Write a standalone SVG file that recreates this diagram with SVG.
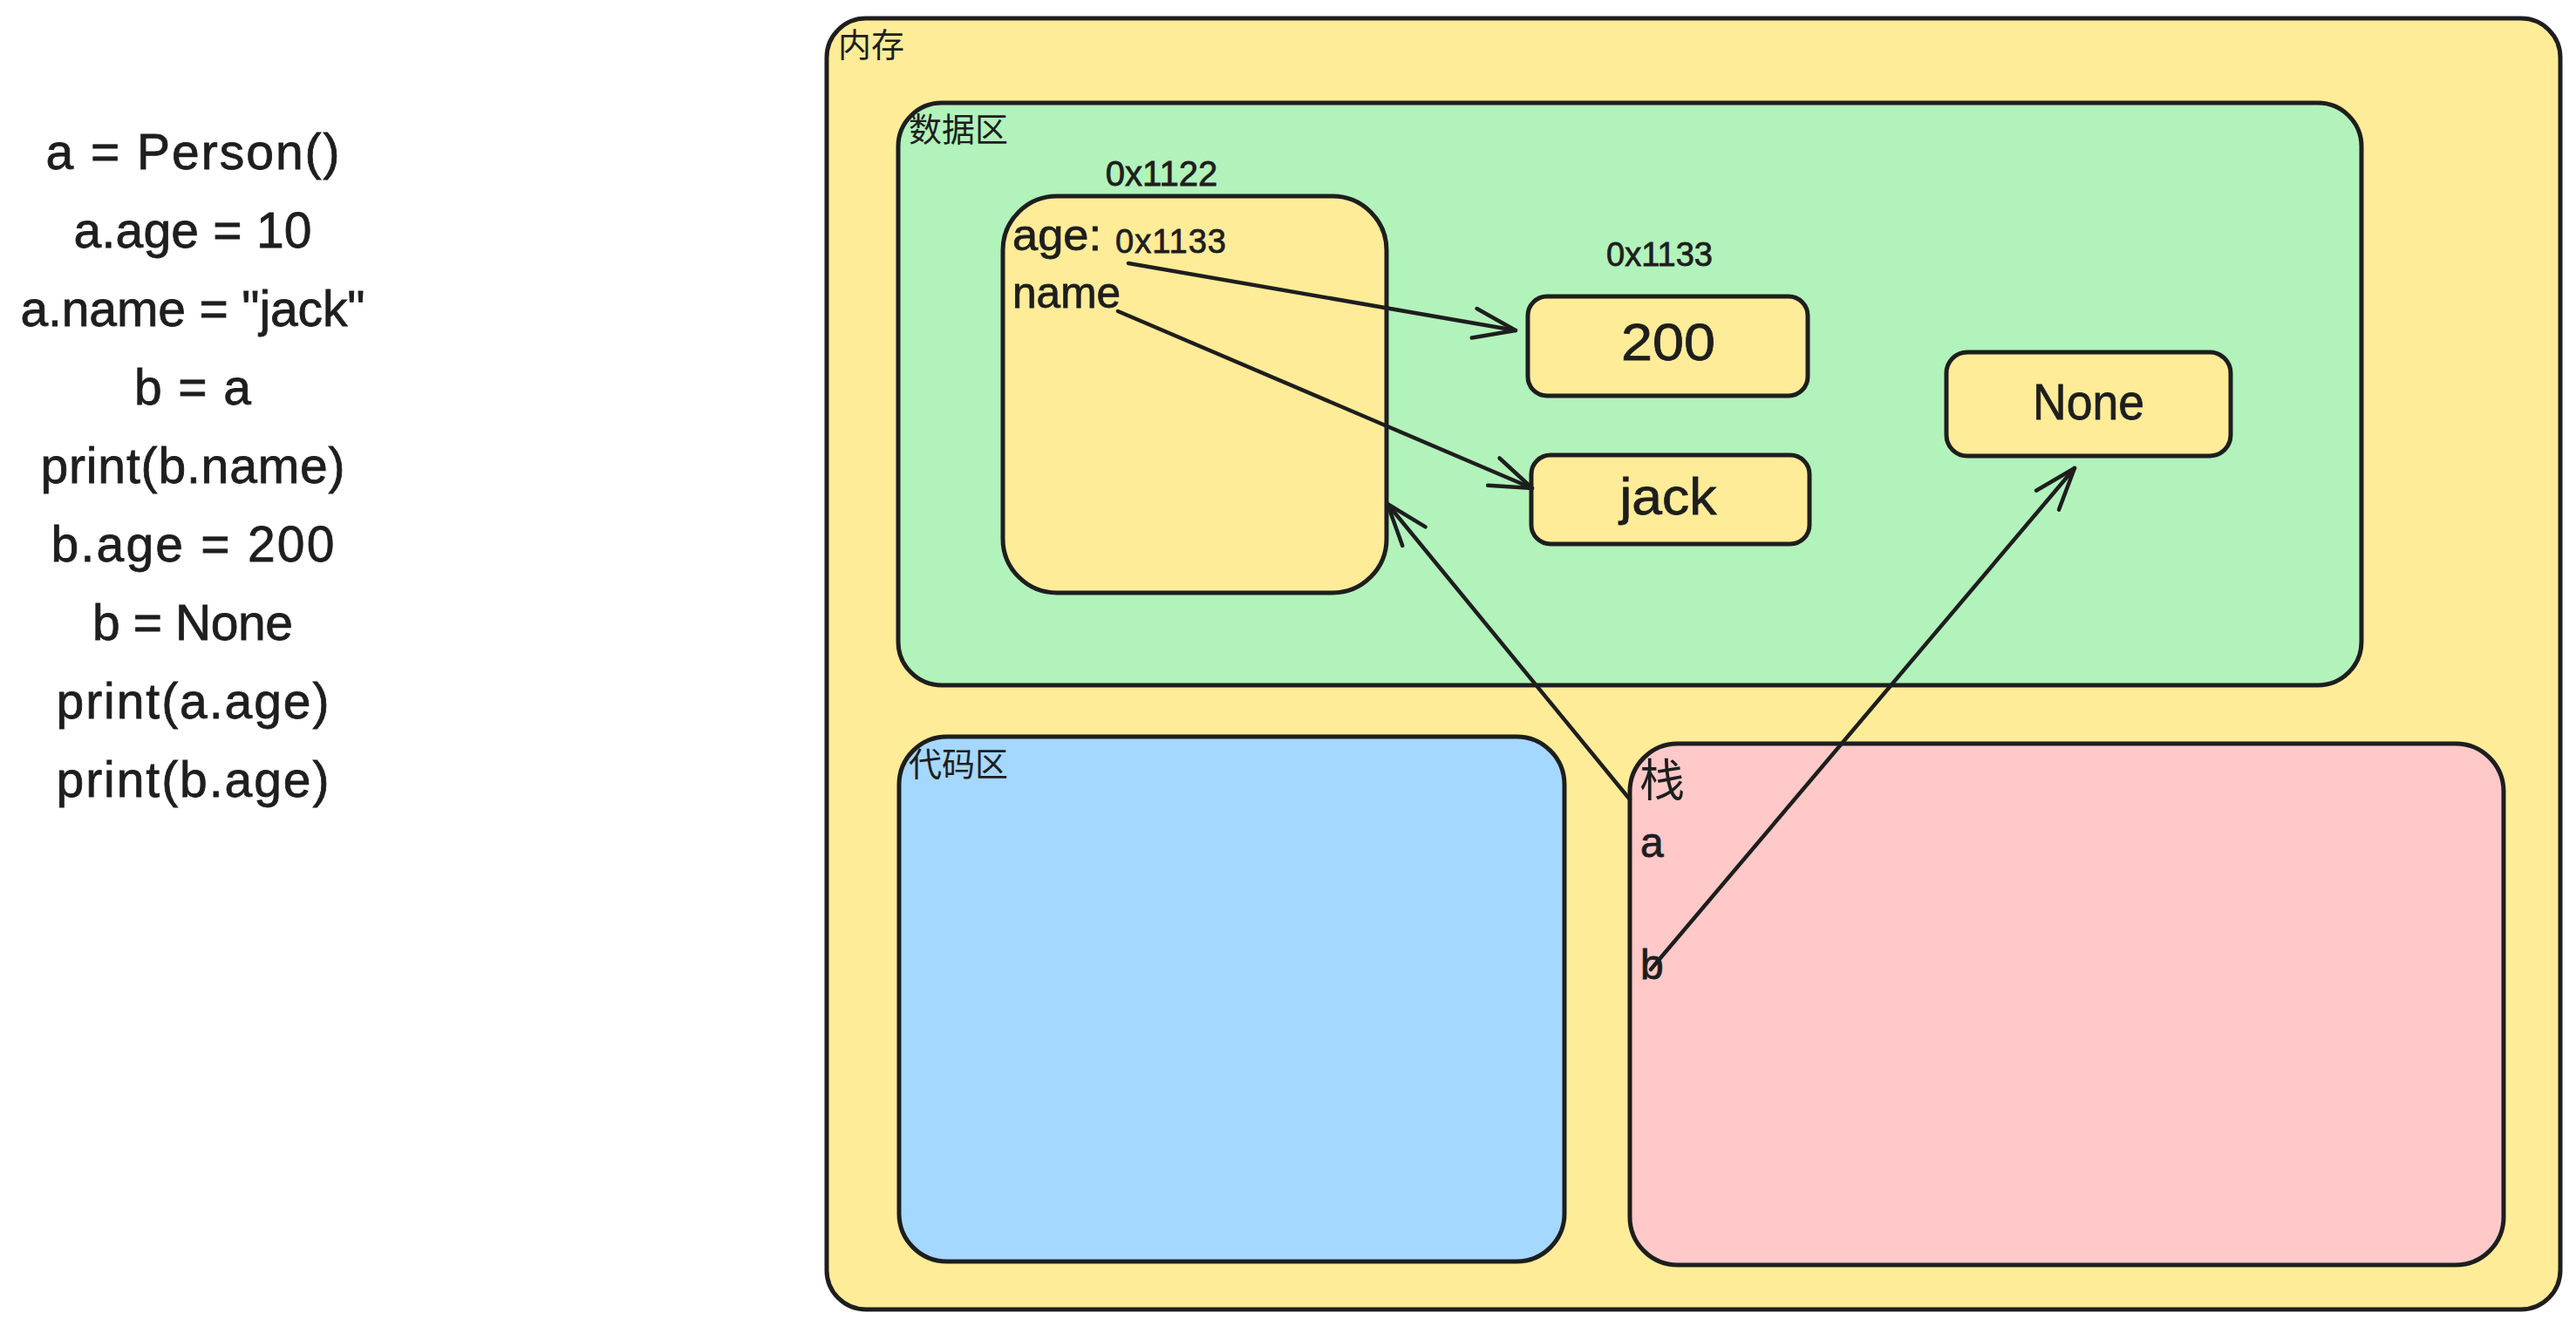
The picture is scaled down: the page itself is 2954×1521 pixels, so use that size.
<svg xmlns="http://www.w3.org/2000/svg" width="2954" height="1521" viewBox="0 0 2954 1521">
  <style>
    .box { stroke: #1e1e1e; stroke-width: 5; stroke-linejoin: round; }
    .yellow { fill: #ffec99; }
    .green { fill: #b2f2bb; }
    .blue { fill: #a5d8ff; }
    .pink { fill: #ffc9c9; }
    .txt { font-family: "Liberation Sans", "Noto Sans", sans-serif; fill: #1e1e1e; stroke: #1e1e1e; stroke-width: 0.8; }
    .cjk { font-family: "Noto Sans CJK SC", "Noto Sans", sans-serif; fill: #1e1e1e; }
    .code { font-size: 57px; text-anchor: middle; }
    .mid { text-anchor: middle; }
    .edge { fill: none; stroke: #1e1e1e; stroke-width: 4.5; stroke-linecap: round; }
  </style>
  <defs>
    <marker id="arrow-open" markerUnits="userSpaceOnUse" orient="auto" refX="0" refY="0" markerWidth="60" markerHeight="40" overflow="visible">
      <path d="M -48 -17 L 0 0 L -48 17" fill="none" stroke="#1e1e1e" stroke-width="4.5" stroke-linecap="round" stroke-linejoin="round"/>
    </marker>
  </defs>

  <rect width="2954" height="1521" fill="#ffffff"/>

  <!-- source listing -->
  <g id="code-listing" class="txt code">
    <text x="221" y="194" textLength="337" lengthAdjust="spacing">a = Person()</text>
    <text x="221" y="284" textLength="273" lengthAdjust="spacing">a.age = 10</text>
    <text x="221" y="374" textLength="395" lengthAdjust="spacing">a.name = "jack"</text>
    <text x="221" y="464" textLength="134" lengthAdjust="spacing">b = a</text>
    <text x="221" y="554" textLength="349" lengthAdjust="spacing">print(b.name)</text>
    <text x="221" y="644" textLength="325" lengthAdjust="spacing">b.age = 200</text>
    <text x="221" y="734" textLength="230" lengthAdjust="spacing">b = None</text>
    <text x="221" y="824" textLength="313" lengthAdjust="spacing">print(a.age)</text>
    <text x="221" y="914" textLength="313" lengthAdjust="spacing">print(b.age)</text>
  </g>

  <!-- memory -->
  <g id="memory">
    <rect class="box yellow" x="948" y="21" width="1988" height="1481" rx="45"/>
    <text class="cjk" x="961" y="65" font-size="38">内存</text>
  </g>

  <!-- data area -->
  <g id="data-area">
    <rect class="box green" x="1030" y="118" width="1678" height="668" rx="50"/>
    <text class="cjk" x="1042" y="162" font-size="38">数据区</text>
  </g>

  <!-- object at 0x1122 -->
  <g id="object-0x1122">
    <text class="txt mid" x="1332" y="213" font-size="40">0x1122</text>
    <rect class="box yellow" x="1150" y="225" width="440" height="455" rx="62"/>
    <text class="txt" x="1161" y="287" font-size="50" textLength="102" lengthAdjust="spacingAndGlyphs">age:</text>
    <text class="txt" x="1279" y="290" font-size="38" textLength="127" lengthAdjust="spacing">0x1133</text>
    <text class="txt" x="1161" y="353" font-size="50" textLength="124" lengthAdjust="spacingAndGlyphs">name</text>
  </g>

  <!-- int object 200 -->
  <g id="value-200">
    <text class="txt mid" x="1903" y="305" font-size="38">0x1133</text>
    <rect class="box yellow" x="1752" y="340" width="321" height="114" rx="22"/>
    <text class="txt mid" x="1913" y="413" font-size="60" textLength="108" lengthAdjust="spacingAndGlyphs">200</text>
  </g>

  <!-- str object jack -->
  <g id="value-jack">
    <rect class="box yellow" x="1756" y="522" width="319" height="102" rx="22"/>
    <text class="txt mid" x="1913" y="590" font-size="60" textLength="111" lengthAdjust="spacingAndGlyphs">jack</text>
  </g>

  <!-- None object -->
  <g id="value-none">
    <rect class="box yellow" x="2232" y="404" width="326" height="119" rx="24"/>
    <text class="txt mid" x="2395" y="481" font-size="58" textLength="128" lengthAdjust="spacingAndGlyphs">None</text>
  </g>

  <!-- code area -->
  <g id="code-area">
    <rect class="box blue" x="1031" y="845" width="763" height="602" rx="55"/>
    <text class="cjk" x="1042" y="890" font-size="38">代码区</text>
  </g>

  <!-- stack -->
  <g id="stack">
    <rect class="box pink" x="1869" y="853" width="1002" height="598" rx="55"/>
    <text class="cjk" x="1880" y="914" font-size="52">栈</text>
    <text class="txt" x="1881" y="983" font-size="48">a</text>
    <text class="txt" x="1881" y="1123" font-size="48">b</text>
  </g>

  <!-- references -->
  <g id="connectors">
    <line class="edge" x1="1294" y1="302" x2="1738" y2="379" marker-end="url(#arrow-open)"/>
    <line class="edge" x1="1282" y1="357" x2="1757" y2="560" marker-end="url(#arrow-open)"/>
    <line class="edge" x1="1869" y1="917" x2="1591" y2="578" marker-end="url(#arrow-open)"/>
    <line class="edge" x1="1893" y1="1112" x2="2379" y2="537" marker-end="url(#arrow-open)"/>
  </g>
</svg>
